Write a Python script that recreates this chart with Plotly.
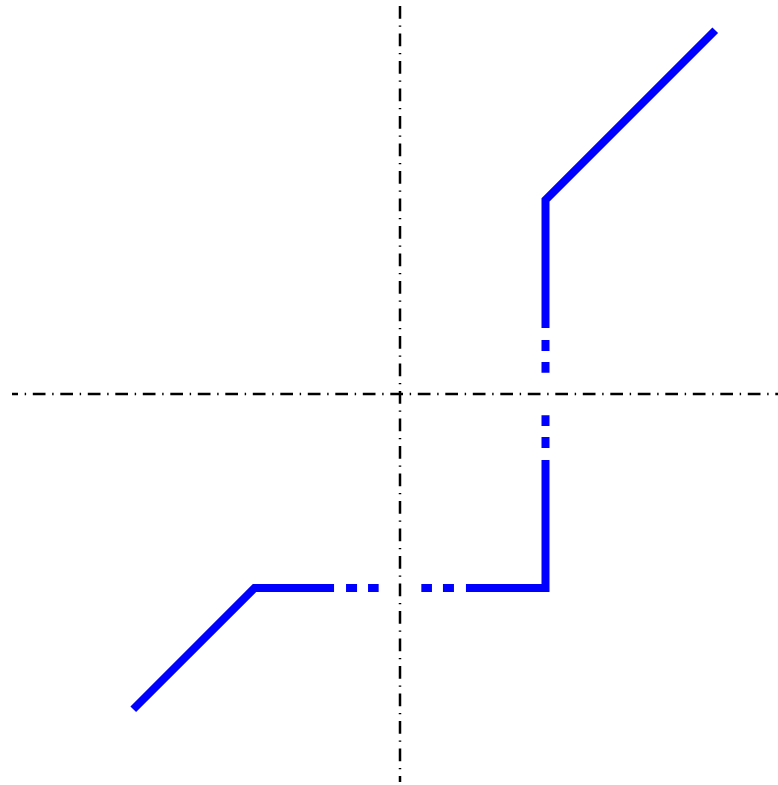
import plotly.graph_objects as go

# Data (in plot units)
# Solid branches of the hysteresis characteristic
lower_x = [-2.75, -1.5, -0.68]
lower_y = [-3.25, -2.0, -2.0]
corner_x = [0.68, 1.5, 1.5]
corner_y = [-2.0, -2.0, -0.68]
upper_x = [1.5, 1.5, 3.25]
upper_y = [0.68, 2.0, 3.75]

# Dashed transition pieces (from solid end toward the axis)
dash_h_left_x = [-0.68, -0.22]
dash_h_left_y = [-2.0, -2.0]
dash_h_right_x = [0.68, 0.22]
dash_h_right_y = [-2.0, -2.0]
dash_v_low_x = [1.5, 1.5]
dash_v_low_y = [-0.68, -0.22]
dash_v_up_x = [1.5, 1.5]
dash_v_up_y = [0.68, 0.22]

# Coordinate axes (drawn as dash-dot lines)
haxis_x = [4.0, -4.0]
haxis_y = [0.0, 0.0]
vaxis_x = [0.0, 0.0]
vaxis_y = [4.0, -4.0]

BLUE = "#0000ff"
LW = 8
AXIS_DASH = "12.7px,6.7px,1.4px,6.7px"
GAP_DASH = "0px,12px,11px,11px,11px,200px"

fig = go.Figure()

fig.add_trace(go.Scatter(x=haxis_x, y=haxis_y, mode="lines",
                         line=dict(color="black", width=2.5, dash=AXIS_DASH)))
fig.add_trace(go.Scatter(x=vaxis_x, y=vaxis_y, mode="lines",
                         line=dict(color="black", width=2.5, dash=AXIS_DASH)))

for xs, ys in [(lower_x, lower_y), (corner_x, corner_y), (upper_x, upper_y)]:
    fig.add_trace(go.Scatter(x=xs, y=ys, mode="lines",
                             line=dict(color=BLUE, width=LW)))

for xs, ys in [(dash_h_left_x, dash_h_left_y), (dash_h_right_x, dash_h_right_y),
               (dash_v_low_x, dash_v_low_y), (dash_v_up_x, dash_v_up_y)]:
    fig.add_trace(go.Scatter(x=xs, y=ys, mode="lines",
                             line=dict(color=BLUE, width=LW, dash=GAP_DASH)))

U = 97.0  # pixels per unit
fig.update_layout(
    width=778, height=785,
    margin=dict(l=0, r=0, t=0, b=0),
    paper_bgcolor="white", plot_bgcolor="white",
    showlegend=False, hovermode=False,
    xaxis=dict(range=[-400 / U, 378 / U], visible=False, fixedrange=True),
    yaxis=dict(range=[-391 / U, 394 / U], visible=False, fixedrange=True),
)

fig.write_html("out.html", config={"displayModeBar": False},
               post_script="document.body.style.margin='0';"
                           "document.body.style.overflow='hidden';")
